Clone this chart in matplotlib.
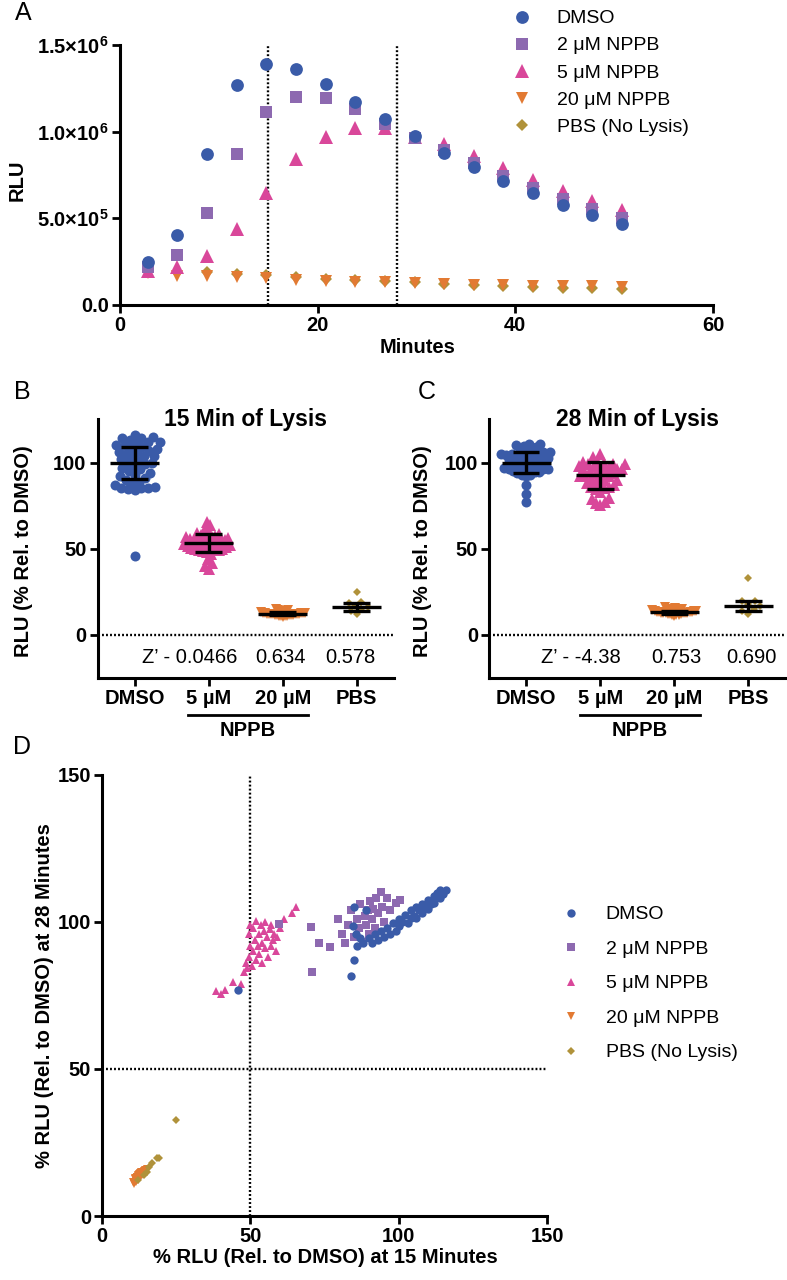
import numpy as np
import matplotlib
matplotlib.use("Agg")
import matplotlib.pyplot as plt
from matplotlib.lines import Line2D
from matplotlib.transforms import blended_transform_factory

plt.rcParams['font.family'] = ['Liberation Sans', 'DejaVu Sans']
plt.rcParams['mathtext.fontset'] = 'custom'
plt.rcParams['mathtext.rm'] = 'Liberation Sans'
plt.rcParams['mathtext.bf'] = 'Liberation Sans:bold'
plt.rcParams['axes.linewidth'] = 2.2
for k in ('xtick', 'ytick'):
    plt.rcParams[k + '.major.width'] = 2.0
    plt.rcParams[k + '.major.size'] = 5.5
    plt.rcParams[k + '.major.pad'] = 2.5
    plt.rcParams[k + '.labelsize'] = 14.5

# ---------------- data ----------------
# Panel A: kinetic read (RLU vs minutes)
time_min = [2.8, 5.8, 8.8, 11.8, 14.8, 17.8, 20.8, 23.8, 26.8, 29.8, 32.8,
            35.8, 38.8, 41.8, 44.8, 47.8, 50.8]
rlu_dmso = [2.50e5, 4.04e5, 8.69e5, 1.269e6, 1.39e6, 1.36e6, 1.275e6, 1.173e6,
            1.071e6, 0.975e6, 0.879e6, 0.794e6, 0.715e6, 0.644e6, 0.579e6,
            0.517e6, 0.465e6]
rlu_2um = [2.20e5, 2.88e5, 5.33e5, 8.69e5, 1.115e6, 1.202e6, 1.192e6, 1.129e6,
           1.044e6, 0.965e6, 0.894e6, 0.817e6, 0.744e6, 0.673e6, 0.612e6,
           0.554e6, 0.500e6]
rlu_5um = [1.98e5, 2.20e5, 2.83e5, 4.40e5, 6.48e5, 8.40e5, 0.971e6, 1.023e6,
           1.019e6, 0.970e6, 0.929e6, 0.860e6, 0.789e6, 0.721e6, 0.660e6,
           0.602e6, 0.548e6]
rlu_20um = [1.85e5, 1.67e5, 1.67e5, 1.63e5, 1.58e5, 1.44e5, 1.38e5, 1.35e5,
            1.30e5, 1.27e5, 1.21e5, 1.17e5, 1.15e5, 1.12e5, 1.10e5, 1.08e5,
            1.06e5]
rlu_pbs = [1.95e5, 1.92e5, 1.88e5, 1.80e5, 1.72e5, 1.60e5, 1.52e5, 1.45e5,
           1.38e5, 1.30e5, 1.20e5, 1.13e5, 1.08e5, 1.04e5, 1.00e5, 0.97e5,
           0.95e5]
lysis_marks = [15, 28]

# Per-well % RLU (rel. to DMSO) at 15 min and at 28 min
dmso_15 = [46, 84, 84.5, 85, 85, 85.5, 86, 87, 88, 89, 90, 91, 92, 93, 94, 95,
           96, 97, 98, 99, 100, 100, 101, 102, 103, 104, 104, 105, 106, 106,
           107, 108, 108, 109, 110, 110, 111, 112, 112, 113, 114, 114, 115, 116]
dmso_28 = [77, 81.5, 98.5, 87, 105, 96, 92, 94.5, 93, 104, 94.5, 93, 96, 94,
           97, 95, 98, 96, 99.5, 97, 101, 98.5, 100, 102.5, 99.5, 101.5, 104,
           102, 105, 101.5, 104, 106, 103, 105, 107.5, 104.5, 106, 109, 106.5,
           110, 108, 111, 109.5, 111]
np2_15 = [59.5, 70.5, 70.7, 73, 77, 79.7, 81, 82, 83, 84, 85, 86, 86.5, 87, 88,
          88.5, 89, 89.5, 90, 90.5, 91, 91.5, 92, 92.5, 93, 94, 94.5, 95, 96,
          97, 99, 100.4]
np2_28 = [99.3, 98.4, 83, 93, 91.6, 101, 96, 92.8, 99, 104, 95, 101, 98, 106,
          93.3, 102, 99, 104, 96, 107, 101, 104.5, 98, 108, 103, 110.3, 105,
          100, 108, 104, 106.5, 107.5]
np5_15 = [38.5, 40, 41.5, 44, 47, 48, 48.5, 49, 49.5, 49.5, 50, 50, 50.5, 51,
          51, 51.5, 52, 52, 52.5, 53, 53, 53.5, 54, 54, 54.5, 55, 55, 55.5, 56,
          56.5, 57, 57, 57.5, 58, 58.5, 59, 60, 61.5, 64, 65.5]
np5_28 = [76.5, 75.5, 77, 79.5, 79, 83, 86, 84.5, 88, 96, 92, 99, 85, 90, 98,
          94, 87, 100.5, 92, 96, 89, 99, 93, 86, 97, 91, 100, 95, 88, 97.5, 92,
          99, 94, 96, 90, 95, 98, 101, 103, 105]
np20_15 = [10.5, 10.8, 11, 11, 11.2, 11.4, 11.5, 11.6, 11.7, 11.8, 11.9, 12, 12,
           12.1, 12.2, 12.3, 12.4, 12.5, 12.6, 12.7, 12.8, 13, 13.2, 13.4, 13.6,
           13.8, 14, 14.3, 14.6, 15]
np20_28 = [11.5, 10.8, 12.6, 11.6, 12.8, 11.7, 12.9, 12.0, 13.2, 12.2, 13.4,
           12.4, 13.5, 12.6, 13.9, 12.8, 14.1, 13.0, 14.3, 13.2, 14.5, 13.6,
           14.8, 13.9, 15.1, 14.2, 15.3, 14.7, 15.8, 16.0]
pbs_15 = [24.9, 19.3, 18.7, 17, 16, 15, 14, 12]
pbs_28 = [32.8, 19.8, 19.6, 18, 16.5, 15, 14, 12.3]

# Mean +/- SD bars as drawn in panels B and C (DMSO, 5 uM, 20 uM, PBS)
b_mean = [100.0, 53.3, 12.3, 16.2]
b_sd = [9.3, 5.4, 0.9, 2.2]
c_mean = [100.0, 92.6, 13.1, 16.9]
c_sd = [6.0, 7.7, 0.9, 2.9]
b_zprime = ["Z\u2019 - 0.0466", "0.634", "0.578"]
c_zprime = ["Z\u2019 - -4.38", "0.753", "0.690"]

col_cats = ['DMSO', '5 \u00b5M', '20 \u00b5M', 'PBS']
legend_labels = ['DMSO', '2 \u03bcM NPPB', '5 \u03bcM NPPB', '20 \u03bcM NPPB',
                 'PBS (No Lysis)']
a_yticks = [0, 5e5, 1e6, 1.5e6]
a_yticklabels = ['0.0', r'$\mathbf{5.0{\times}10^{5}}$',
                 r'$\mathbf{1.0{\times}10^{6}}$', r'$\mathbf{1.5{\times}10^{6}}$']

# ---------------- style ----------------
blue = '#3A5BA8'
purple = '#8D69B0'
pink = '#D9479A'
orange = '#E27A33'
gold = '#B0923A'

W, H = 787, 1280
fig = plt.figure(figsize=(W / 100, H / 100), dpi=100)


def rect(l, t, r, b):
    return [l / W, 1 - b / H, (r - l) / W, (b - t) / H]


def clean(ax):
    ax.spines['top'].set_visible(False)
    ax.spines['right'].set_visible(False)


def bold_ticks(ax):
    for lab in ax.get_xticklabels() + ax.get_yticklabels():
        lab.set_fontweight('bold')


DOT = (0, (0.8, 0.9))


def swarm_x(ax, xc, vals, dpx, maxw):
    """Column-scatter layout in pixel space, squeezed to +/- maxw pixels."""
    vals = np.asarray(vals, float)
    pix = ax.transData.transform(np.column_stack([np.full(len(vals), xc), vals]))
    x0 = pix[0, 0]
    ys = pix[:, 1]
    offs = np.zeros(len(vals))
    placed = []
    for i in np.argsort(ys):
        y = ys[i]
        ivs = []
        for po, py in placed:
            dy = abs(py - y)
            if dy < dpx:
                h = np.sqrt(dpx ** 2 - dy ** 2)
                ivs.append((po - h, po + h))
        cands = [0.0] + [e for iv in ivs for e in iv]
        cands.sort(key=lambda c: (abs(c), c))
        off = 0.0
        for c in cands:
            if all(not (a + 1e-9 < c < b - 1e-9) for a, b in ivs):
                off = c
                break
        offs[i] = off
        placed.append((off, y))
    m = np.abs(offs).max()
    if m > maxw:
        offs *= maxw / m
    return ax.transData.inverted().transform(
        np.column_stack([x0 + offs, ys]))[:, 0]


# ---------------- Panel A ----------------
axA = fig.add_axes(rect(120, 45, 713, 305))
clean(axA)
a_series = [(rlu_pbs, gold, 'D', 6.0), (rlu_20um, orange, 'v', 8.8),
            (rlu_5um, pink, '^', 9.4), (rlu_2um, purple, 's', 8.6),
            (rlu_dmso, blue, 'o', 9.2)]
for vals, c, m, ms in a_series:
    axA.plot(time_min, vals, ls='none', marker=m, color=c, ms=ms, mew=0)
for xm in lysis_marks:
    axA.axvline(xm, color='k', lw=1.7, ls=DOT, zorder=0.5)
axA.set_xlim(0, 60)
axA.set_ylim(0, 1.5e6)
axA.set_xticks([0, 20, 40, 60])
axA.set_yticks(a_yticks, a_yticklabels)
bold_ticks(axA)
axA.set_xlabel('Minutes', fontsize=14.5, fontweight='bold')
axA.set_ylabel('RLU', fontsize=14.5, fontweight='bold')
axA.yaxis.label.set_verticalalignment('center')
axA.xaxis.label.set_verticalalignment('center')
axA.yaxis.set_label_coords(-0.173, 0.48)
axA.xaxis.set_label_coords(0.5025, -0.165)
legA_h = [Line2D([], [], ls='none', marker=m, color=c, ms=ms, mew=0)
          for vals, c, m, ms in a_series[::-1]]
axA.legend(legA_h, legend_labels, loc='upper left',
           bbox_to_anchor=(512 / W, 1 - 9.7 / H), bbox_transform=fig.transFigure,
           frameon=False, borderpad=0, borderaxespad=0, handlelength=1.0,
           handletextpad=1.3, labelspacing=0.49, fontsize=14, numpoints=1)


# ---------------- Panels B, C ----------------
def column_panel(ax, vals_list, means, sds, ztexts, zx, title):
    clean(ax)
    ax.set_xlim(-0.5, 3.5)
    ax.set_ylim(-25, 125)
    styles = [(blue, 'o', 7.2, 7.5, 25), (pink, '^', 8.0, 7.5, 25),
              (orange, 'v', 7.0, 5.0, 22), (gold, 'D', 4.4, 7.0, 25)]
    for i, (vals, (c, m, ms, dpx, mw)) in enumerate(zip(vals_list, styles)):
        xs = swarm_x(ax, i, vals, dpx, mw)
        ax.plot(xs, vals, ls='none', marker=m, ms=ms, color=c, mew=0, zorder=2)
    for i, (mu, sd) in enumerate(zip(means, sds)):
        ax.hlines(mu, i - 0.33, i + 0.33, color='k', lw=2.4, zorder=3)
        ax.hlines([mu - sd, mu + sd], i - 0.18, i + 0.18, color='k', lw=2.4,
                  zorder=3)
        ax.vlines(i, mu - sd, mu + sd, color='k', lw=2.4, zorder=3)
    ax.axhline(0, color='k', lw=1.7, ls=DOT, zorder=1)
    for t, x in zip(ztexts, zx):
        ax.text(x, -13, t, ha='center', va='center', fontsize=14.5)
    ax.set_xticks(range(4), col_cats)
    ax.set_yticks([0, 50, 100])
    bold_ticks(ax)
    ax.set_ylabel('RLU (% Rel. to DMSO)', fontsize=14.5, fontweight='bold')
    ax.yaxis.label.set_verticalalignment('center')
    ax.text(0.5, 1.0, title, transform=ax.transAxes, ha='center', va='center',
            fontsize=16.5, fontweight='bold')
    tr = blended_transform_factory(ax.transData, fig.transFigure)
    ax.plot([0.725, 2.34], [1 - 715 / H] * 2, color='k', lw=2.0, transform=tr,
            clip_on=False)
    ax.text(1.53, 1 - 730 / H, 'NPPB', transform=tr, ha='center', va='center',
            fontsize=14.5, fontweight='bold')


axB = fig.add_axes(rect(97.7, 419.5, 393.7, 678))
column_panel(axB, [dmso_15, np5_15, np20_15, pbs_15], b_mean, b_sd, b_zprime,
             [0.74, 1.97, 2.91], '15 Min of Lysis')
axB.yaxis.set_label_coords(-0.249, 0.489)

axC = fig.add_axes(rect(489, 419.5, 785.5, 678))
column_panel(axC, [dmso_28, np5_28, np20_28, pbs_28], c_mean, c_sd, c_zprime,
             [0.745, 2.03, 3.04], '28 Min of Lysis')
axC.yaxis.set_label_coords(-0.2226, 0.489)

# ---------------- Panel D ----------------
axD = fig.add_axes(rect(102, 775, 547, 1216))
clean(axD)
d_series = [(np20_15, np20_28, orange, 'v', 5.2), (pbs_15, pbs_28, gold, 'D', 3.8),
            (np5_15, np5_28, pink, '^', 6.3), (np2_15, np2_28, purple, 's', 5.8),
            (dmso_15, dmso_28, blue, 'o', 6.0)]
for xv, yv, c, m, ms in d_series:
    axD.plot(xv, yv, ls='none', marker=m, color=c, ms=ms, mew=0)
axD.axvline(50, color='k', lw=1.7, ls=DOT, zorder=0.5)
axD.axhline(50, color='k', lw=1.7, ls=DOT, zorder=0.5)
axD.set_xlim(0, 150)
axD.set_ylim(0, 150)
axD.set_xticks([0, 50, 100, 150])
axD.set_yticks([0, 50, 100, 150])
bold_ticks(axD)
axD.set_xlabel('% RLU (Rel. to DMSO) at 15 Minutes', fontsize=14.5,
               fontweight='bold')
axD.set_ylabel('% RLU (Rel. to DMSO) at 28 Minutes', fontsize=14.5,
               fontweight='bold')
axD.yaxis.label.set_verticalalignment('center')
axD.xaxis.label.set_verticalalignment('center')
axD.yaxis.set_label_coords(-0.13, 0.5)
axD.xaxis.set_label_coords(0.501, -0.095)
d_styles = [(blue, 'o', 6.0), (purple, 's', 5.5), (pink, '^', 6.0),
            (orange, 'v', 6.0), (gold, 'D', 4.2)]
legD_h = [Line2D([], [], ls='none', marker=m, color=c, ms=ms, mew=0)
          for c, m, ms in d_styles]
axD.legend(legD_h, legend_labels, loc='upper left',
           bbox_to_anchor=(561 / W, 1 - 905.7 / H), bbox_transform=fig.transFigure,
           frameon=False, borderpad=0, borderaxespad=0, handlelength=1.0,
           handletextpad=1.3, labelspacing=0.87, fontsize=14, numpoints=1)

# ---------------- panel letters ----------------
for letter, (px, py) in zip('ABCD', [(23, 13), (22, 392), (427, 392), (22, 747)]):
    fig.text(px / W, 1 - py / H, letter, ha='center', va='center', fontsize=18)

fig.savefig('out.png', dpi=100)
